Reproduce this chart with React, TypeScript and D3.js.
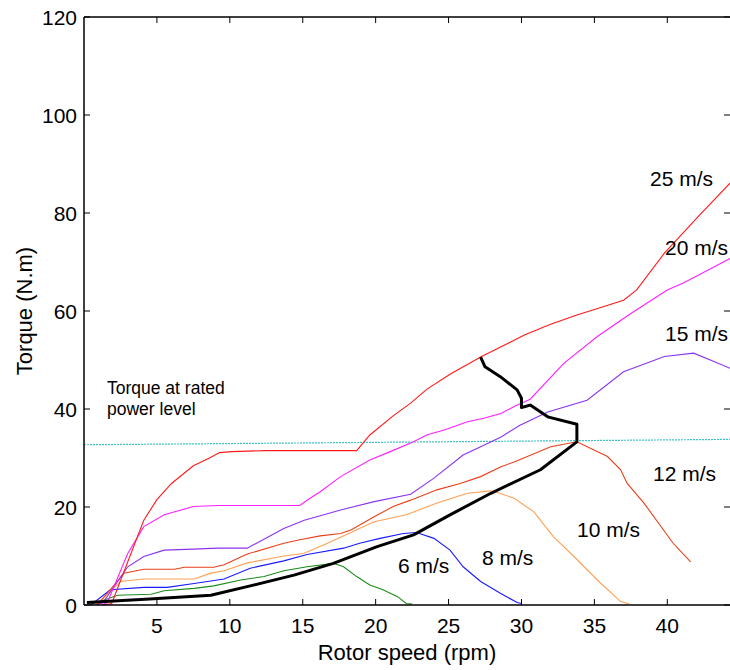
import React from "react";
import * as d3 from "d3";

type P = [number, number];

const xTicks = [5, 10, 15, 20, 25, 30, 35, 40];
const yTicks = [0, 20, 40, 60, 80, 100, 120];

const speed25: P[] = [[1.3,0],[1.9,0.3],[4.1,17.3],[5.0,21.5],[6.0,24.8],[7.5,28.4],[8.6,30],[9.3,31.1],[10.1,31.3],[12.4,31.5],[18.7,31.5],[19.6,34.7],[21.2,38.6],[22.4,41.2],[23.5,44.0],[25.1,47.1],[27.2,50.6],[28.6,52.7],[30.2,55.1],[32.0,57.3],[33.8,59.2],[35.0,60.3],[37.0,62.2],[37.9,64.3],[39.8,71.8],[42.1,79.2],[44.3,86.1]];
const speed20: P[] = [[1.2,0],[1.6,0.5],[3.0,10.5],[4.1,16.0],[5.5,18.4],[7.5,20.1],[9.2,20.3],[14.8,20.3],[15.5,21.8],[16.2,23.1],[17.6,26.2],[19.6,29.6],[21.0,31.3],[22.6,33.3],[23.5,34.7],[24.7,35.7],[26.3,37.4],[27.4,38.1],[28.6,39.1],[29.5,40.5],[30.6,42.0],[32.9,49.3],[35.2,54.8],[37.5,59.5],[40.0,64.3],[41.1,65.7],[43.2,69.0],[44.3,70.7]];
const speed15: P[] = [[0.9,0],[1.3,0.5],[3.0,7.8],[4.1,9.9],[5.5,11.2],[7.5,11.4],[9.2,11.6],[11.2,11.6],[13.7,15.6],[15.1,17.3],[17.6,19.4],[19.9,21.1],[22.4,22.6],[24.0,25.9],[26.0,30.6],[27.2,32.3],[28.6,34.3],[29.9,36.7],[31.8,39.4],[34.5,41.8],[37.0,47.6],[39.8,50.7],[41.8,51.4],[43.2,49.7],[44.3,48.3]];
const speed12: P[] = [[0.8,0],[1.0,0.3],[2.75,6.5],[4.1,7.3],[6.2,7.3],[6.9,7.7],[8.9,7.7],[9.6,8.2],[11.2,10.4],[13.7,12.6],[14.8,13.3],[16.2,14.1],[17.6,14.6],[18.3,15.3],[19.9,18.0],[21.2,20.1],[22.4,21.4],[24.2,23.5],[25.8,24.8],[27.2,26.2],[28.6,28.2],[29.5,29.2],[32.0,32.3],[33.8,33.3],[35.9,30.3],[36.8,27.6],[37.25,24.8],[38.4,20.8],[40.4,12.6],[41.6,8.8]];
const speed10: P[] = [[0.6,0],[0.9,0.3],[2.5,4.8],[4.1,5.3],[7.55,5.3],[8.7,6.5],[9.6,7.0],[11.2,8.6],[13.7,10.0],[15.05,10.5],[16.7,12.6],[18.3,14.8],[19.9,17.0],[22.1,18.4],[24.2,20.8],[26.3,22.8],[27.9,23.3],[28.3,23.0],[29.5,21.8],[30.85,19.0],[32.2,13.9],[33.6,9.9],[35.2,5.1],[36.8,0.7],[37.4,0.2]];
const speed8: P[] = [[0.4,0],[0.6,0.3],[1.8,3.1],[4.1,3.6],[5.7,3.6],[7.55,4.4],[9.6,5.3],[11.4,7.5],[13.7,9.0],[15.3,10.3],[17.8,11.6],[18.9,12.6],[20.3,13.6],[21.9,14.6],[22.8,14.8],[24.0,13.6],[25.1,11.2],[26.0,7.8],[27.2,4.8],[28.55,2.4],[29.7,0.5],[30.0,0.3]];
const speed6: P[] = [[0.5,0],[0.7,0.3],[2.3,2.0],[4.6,2.2],[5.5,2.9],[7.55,3.4],[8.9,3.9],[10.75,5.1],[12.35,5.8],[13.7,7.0],[15.3,7.8],[17.1,8.5],[17.8,7.8],[18.7,5.8],[19.6,4.1],[20.5,3.1],[21.5,1.7],[22.1,0.3],[22.5,0.2]];
const optimal: P[] = [[0.2,0.5],[4.5,1.2],[8.7,2.0],[11.4,3.9],[14.4,6.1],[17.1,8.5],[20.1,11.9],[22.6,14.3],[25.1,18.4],[27.9,22.8],[31.3,27.6],[33.8,33.3],[33.8,36.9],[31.8,38.4],[30.6,40.8],[30.0,40.3],[30.0,42.2],[29.7,43.9],[28.55,46.6],[27.5,48.6],[27.2,50.6]];
const ratedLine: P[] = [[0,32.7],[44.3,33.8]];

const seriesList = [
  { data: speed6, color: "#1a8c1a" },
  { data: speed8, color: "#1a1aff" },
  { data: speed10, color: "#ffa055" },
  { data: speed12, color: "#e8401a" },
  { data: speed15, color: "#8a33ee" },
  { data: speed20, color: "#ff20ff" },
  { data: speed25, color: "#ff1a1a" },
];

const speedLabels = [
  { text: "25 m/s", x: 650, y: 186 },
  { text: "20 m/s", x: 665, y: 255 },
  { text: "15 m/s", x: 665, y: 341 },
  { text: "12 m/s", x: 653, y: 481 },
  { text: "10 m/s", x: 577, y: 537 },
  { text: "8 m/s", x: 482, y: 565 },
  { text: "6 m/s", x: 398, y: 573 },
];

const W = 730, H = 670;
const L = 84, R = 730, T = 17, B = 605;
const FONT = "'Liberation Sans', Arial, sans-serif";

export default function App() {
  const x = d3.scaleLinear().domain([0, 44.3]).range([L, R]);
  const y = d3.scaleLinear().domain([0, 120]).range([B, T]);
  const line = d3.line<P>().x(d => x(d[0])).y(d => y(d[1]));
  const tl = 6;
  return (
    <svg width={W} height={H} style={{ position: "absolute", left: 0, top: 0, background: "#fff" }} fontFamily={FONT}>
      <rect x={0} y={0} width={W} height={H} fill="#fff" />
      {/* rated torque line */}
      <path d={line(ratedLine) || ""} fill="none" stroke="#3cc4c8" strokeWidth={1.2} strokeDasharray="2,1" />
      {seriesList.map((s, i) => (
        <path key={i} d={line(s.data) || ""} fill="none" stroke={s.color} strokeWidth={1.1} />
      ))}
      <path d={line(optimal) || ""} fill="none" stroke="#000" strokeWidth={3} strokeLinejoin="round" />
      {/* axes box */}
      <g stroke="#000" strokeWidth={1.5} fill="none">
        <line x1={L} y1={T} x2={L} y2={B} />
        <line x1={L} y1={B} x2={R + 1} y2={B} />
        <line x1={L} y1={T} x2={R + 1} y2={T} />
        <line x1={R + 0.75} y1={T} x2={R + 0.75} y2={B} />
      </g>
      <g stroke="#000" strokeWidth={1}>
        {xTicks.map(t => (
          <g key={"xt" + t}>
            <line x1={x(t)} x2={x(t)} y1={B} y2={B - tl} />
            <line x1={x(t)} x2={x(t)} y1={T} y2={T + tl} />
          </g>
        ))}
        {yTicks.map(t => (
          <g key={"yt" + t}>
            <line x1={L} x2={L + tl} y1={y(t)} y2={y(t)} />
            <line x1={R} x2={R - tl} y1={y(t)} y2={y(t)} />
          </g>
        ))}
      </g>
      <g fontSize={21} fill="#000">
        {xTicks.map(t => (
          <text key={"xl" + t} x={x(t)} y={633} textAnchor="middle">{t}</text>
        ))}
        {yTicks.map(t => (
          <text key={"yl" + t} x={77} y={y(t) + 7.5} textAnchor="end">{t}</text>
        ))}
      </g>
      <text x={(L + R) / 2} y={660} textAnchor="middle" fontSize={22}>Rotor speed (rpm)</text>
      <text transform={`translate(32,${(T + B) / 2}) rotate(-90)`} textAnchor="middle" fontSize={22}>Torque (N.m)</text>
      <g fontSize={17.5}>
        <text x={107} y={394}>Torque at rated</text>
        <text x={107} y={415}>power level</text>
      </g>
      <g fontSize={21}>
        {speedLabels.map(l => (
          <text key={l.text} x={l.x} y={l.y}>{l.text}</text>
        ))}
      </g>
    </svg>
  );
}
